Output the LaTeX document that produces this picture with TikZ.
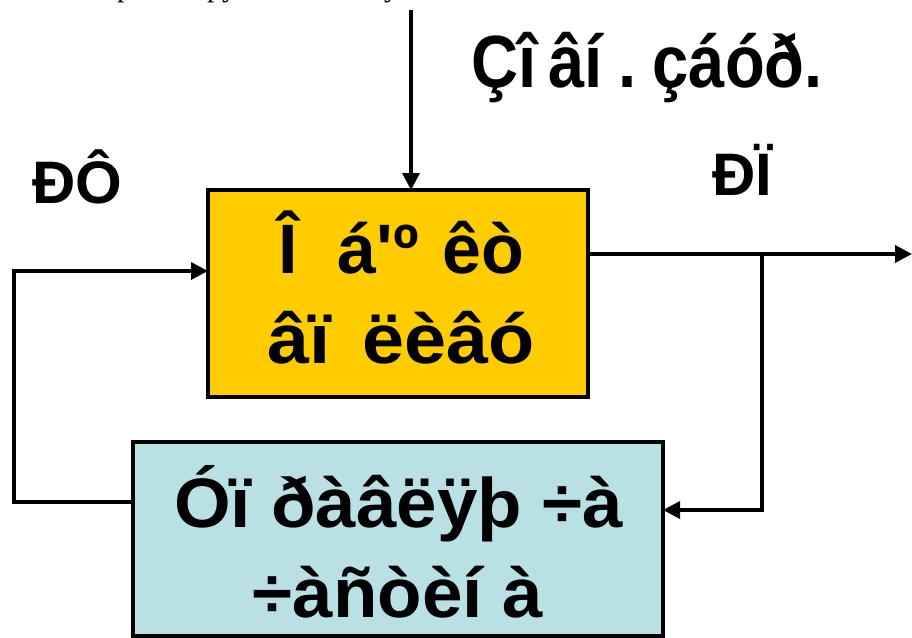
\documentclass[tikz,border=0pt]{standalone}
\usepackage{fontspec}
\setmainfont{Liberation Serif}
\newfontfamily\arb{Liberation Sans}[Ligatures=TeXOff]
\usetikzlibrary{arrows.meta}
\definecolor{objfill}{RGB}{255,204,0}
\definecolor{ctrlfill}{RGB}{185,224,228}

\begin{document}
\begin{tikzpicture}[x=1pt,y=-1pt,
  blk/.style={draw=black, line width=4pt, inner sep=0pt, outer sep=0pt},
  conn/.style={draw=black, line width=3.5pt},
  tip/.style={-{Triangle[length=17pt,width=17pt]}},
  big/.style={inner sep=0pt, font=\arb\bfseries\fontsize{70}{70}\selectfont},
  lbl/.style={inner sep=0pt, font=\arb\bfseries\fontsize{60}{60}\selectfont},
  head/.style={inner sep=0pt, font=\arb\bfseries\fontsize{74}{74}\selectfont},
  cut/.style={inner sep=0pt, font=\fontsize{30}{30}\selectfont}]

\path[use as bounding box, clip] (0,0) rectangle (912,637);
\fill[white] (0,0) rectangle (912,637);

% blocks
\node[blk, fill=objfill, minimum width=380pt, minimum height=207pt] (obj) at (398,293.5) {};
\node[blk, fill=ctrlfill, minimum width=530pt, minimum height=194pt] (ctrl) at (398,539) {};

% block texts
\node[big, anchor=base] (objA) at (401.5,273) {Î\hspace{40pt}á'º\hspace{24pt}êò};
\node[big, anchor=base] (objB) at (401,363) {\scalebox{1.08}[1]{âï\hspace{29pt}ëèâó}};
\node[big, anchor=base] (ctrlA) at (398.5,527) {\scalebox{1.04}[1]{Óï ðàâëÿþ ÷à}};
\node[big, anchor=base] (ctrlB) at (398,617) {\scalebox{1.04}[1]{÷àñòèí à}};

% signal labels
\node[lbl, anchor=base west] (lblRF) at (32,203) {ÐÔ};
\node[lbl, anchor=base west] (lblRP) at (712,195) {ÐÏ};
\node[head, anchor=base west] (lblDist) at (471,87) {\scalebox{0.88}[1]{Çî\hspace{14pt}âí\hspace{18pt}.\hspace{18pt}çáóð.}};

% line of text above, cut by the edge
\node[cut, anchor=base west] (capA) at (117,-3) {p};
\node[cut, anchor=base west] (capB) at (207,-3) {py};
\node[cut, anchor=base west] (capC) at (384,-3) {y};

% connector points
\coordinate (dist) at (411,10);
\coordinate (tap) at (762,254);
\coordinate (outEnd) at (912,254);
\coordinate (bendC) at (762,510);
\coordinate (bendA) at (14,502);
\coordinate (bendB) at (14,271);

% disturbance input
\draw[conn, tip] (dist) -- (dist |- obj.north);
% output and feedback branch
\draw[conn, tip] (obj.east |- tap) -- (outEnd);
\draw[conn, tip] (tap) -- (bendC) -- (ctrl.east |- bendC);
% control action back to the object
\draw[conn, tip] (ctrl.west |- bendA) -- (bendA) -- (bendB) -- (obj.west |- bendB);
\end{tikzpicture}
\end{document}
